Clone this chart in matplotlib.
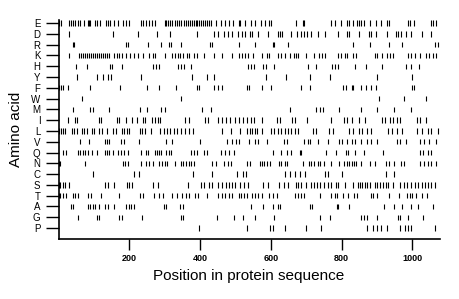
import matplotlib
matplotlib.use('Agg')
import matplotlib.pyplot as plt

plt.rcParams['font.family'] = ['Liberation Sans', 'DejaVu Sans']

# Amino acids from top to bottom
AMINO = ['E', 'D', 'R', 'K', 'H', 'Y', 'F', 'W', 'M', 'I',
         'L', 'V', 'Q', 'N', 'C', 'S', 'T', 'A', 'G', 'P']
SEQ_LEN = 1078

# Positions of each residue in the sequence
pos_E = [2, 8, 30, 36, 42, 48, 54, 60, 72, 82, 86, 90, 104, 110, 116, 134, 140, 146, 158, 168,
         182, 190, 198, 232, 240, 248, 256, 264, 273, 300, 305, 310, 315, 320, 330, 335, 340,
         345, 355, 360, 366, 372, 378, 383, 388, 392, 398, 403, 408, 414, 420, 425, 432, 445,
         460, 470, 481, 494, 509, 514, 527, 543, 554, 571, 584, 595, 601, 672, 690, 695, 769,
         782, 797, 815, 821, 833, 843, 849, 856, 862, 880, 896, 912, 929, 935, 988, 993, 1005,
         1054, 1059, 1066]
pos_D = [29, 155, 224, 278, 316, 391, 438, 452, 467, 479, 490, 507, 518, 528, 540, 546, 563,
         593, 620, 626, 631, 656, 674, 684, 693, 703, 714, 733, 754, 789, 815, 821, 849, 878,
         884, 896, 929, 953, 960, 969, 981, 995, 1028, 1052]
pos_R = [42, 45, 191, 196, 252, 290, 313, 319, 347, 429, 435, 511, 554, 606, 610, 648, 833,
         880, 934, 972, 1063, 1071]
pos_K = [31, 57, 63, 69, 74, 80, 86, 91, 97, 103, 108, 114, 120, 125, 131, 136, 142, 158, 165,
         172, 180, 191, 202, 214, 226, 240, 257, 267, 273, 302, 320, 330, 337, 344, 353, 363,
         369, 382, 391, 410, 438, 462, 490, 511, 518, 526, 535, 549, 575, 590, 596, 620, 629,
         639, 653, 665, 672, 678, 700, 723, 735, 744, 754, 791, 799, 810, 816, 833, 840, 894,
         899, 915, 928, 937, 946, 988, 995, 1007, 1022, 1038, 1047, 1057, 1066]
pos_H = [49, 81, 146, 152, 179, 267, 275, 285, 337, 347, 356, 375, 535, 544, 552, 577, 587,
         610, 706, 728, 772, 782, 791, 837, 868, 915, 981, 995, 1019]
pos_Y = [51, 108, 125, 139, 148, 233, 377, 419, 438, 587, 643, 712, 766, 901, 1000]
pos_F = [2, 7, 14, 28, 89, 174, 249, 285, 332, 391, 396, 438, 451, 462, 532, 537, 575, 601,
         686, 712, 803, 812, 828, 831, 854, 868, 882, 896, 1000, 1005]
pos_W = [66, 347, 906, 977, 1038]
pos_M = [40, 89, 97, 144, 230, 249, 290, 302, 405, 432, 653, 728, 738, 747, 794, 856, 901,
         948, 995]
pos_I = [26, 48, 53, 114, 119, 164, 170, 191, 208, 223, 240, 245, 264, 273, 280, 288, 358,
         368, 415, 422, 452, 462, 473, 485, 498, 511, 520, 532, 544, 552, 575, 618, 625, 659,
         667, 703, 771, 808, 815, 828, 849, 865, 915, 922, 937, 946, 956, 965, 1012, 1022, 1038]
pos_L = [1, 6, 12, 18, 38, 45, 51, 66, 73, 80, 95, 101, 115, 123, 136, 155, 163, 180, 186, 193,
         200, 229, 236, 244, 262, 288, 297, 306, 316, 325, 335, 347, 358, 370, 379, 462, 488,
         514, 532, 540, 546, 554, 561, 575, 601, 610, 620, 629, 639, 648, 657, 669, 676, 719,
         728, 763, 775, 821, 833, 849, 859, 871, 884, 931, 941, 956, 972, 1014, 1026, 1043,
         1054, 1071]
pos_V = [61, 85, 130, 136, 144, 177, 186, 228, 304, 322, 401, 476, 490, 501, 511, 537, 556,
         565, 590, 637, 646, 695, 705, 712, 733, 761, 794, 801, 815, 828, 837, 856, 871, 884,
         901, 956, 965, 981, 1022, 1033, 1047, 1066]
pos_Q = [14, 21, 54, 61, 68, 76, 82, 95, 108, 130, 136, 144, 153, 167, 177, 186, 196, 233,
         247, 252, 272, 278, 285, 290, 304, 311, 319, 375, 382, 391, 410, 419, 460, 471, 483,
         495, 606, 629, 646, 657, 681, 686, 756, 785, 812, 818, 837, 864, 918, 1022, 1031,
         1043, 1054]
pos_N = [1, 3, 76, 181, 189, 196, 233, 247, 255, 267, 285, 292, 300, 306, 330, 347, 353, 360,
         368, 375, 382, 434, 445, 467, 479, 488, 532, 540, 568, 575, 582, 590, 599, 622, 629,
         639, 646, 690, 709, 714, 723, 733, 740, 750, 769, 794, 808, 815, 821, 828, 835, 840,
         854, 880, 894, 925, 934, 948, 967, 975, 1022, 1033, 1043, 1054, 1066]
pos_C = [98, 212, 227, 381, 433, 504, 522, 530, 640, 654, 668, 682, 697, 752, 762, 800, 925,
         948]
pos_S = [1, 4, 12, 19, 31, 132, 139, 158, 193, 200, 208, 266, 281, 366, 403, 410, 426, 435,
         452, 462, 473, 483, 490, 500, 514, 523, 535, 577, 592, 624, 637, 648, 672, 676, 686,
         700, 714, 722, 731, 740, 750, 761, 770, 785, 789, 810, 831, 847, 852, 859, 865, 873,
         880, 894, 901, 909, 918, 925, 931, 946, 965, 977, 986, 995, 1007, 1016, 1026, 1035,
         1044, 1054, 1063]
pos_T = [1, 4, 12, 21, 40, 48, 54, 82, 92, 120, 170, 230, 240, 269, 285, 294, 322, 335, 349,
         360, 368, 385, 394, 419, 452, 462, 471, 481, 490, 511, 516, 523, 532, 546, 556, 565,
         575, 596, 606, 618, 667, 676, 686, 695, 740, 769, 782, 787, 803, 818, 835, 843, 882,
         890, 899, 934, 962, 986, 993, 1000, 1010, 1028, 1042]
pos_A = [35, 42, 82, 89, 97, 104, 114, 130, 139, 158, 191, 198, 206, 213, 297, 304, 344, 351,
         543, 577, 606, 620, 627, 712, 716, 787, 791, 821, 920, 948, 972, 995, 1016, 1057]
pos_G = [54, 108, 115, 172, 178, 236, 347, 353, 448, 495, 520, 556, 608, 740, 766, 854, 862,
         871, 901, 958, 965, 988, 1031]
pos_P = [398, 534, 598, 605, 640, 699, 741, 871, 890, 901, 911, 927, 965, 979, 987, 995, 1064]

POSITIONS = [pos_E, pos_D, pos_R, pos_K, pos_H, pos_Y, pos_F, pos_W, pos_M, pos_I,
             pos_L, pos_V, pos_Q, pos_N, pos_C, pos_S, pos_T, pos_A, pos_G, pos_P]
XTICKS = [200, 400, 600, 800, 1000]

fig = plt.figure(figsize=(4.6, 2.99), dpi=100)
ax = fig.add_axes([0.1272, 0.2023, 0.8293, 0.7307])

n = len(AMINO)
for i, (aa, pos) in enumerate(zip(AMINO, POSITIONS)):
    y = n - 1 - i  # E on top, P at the bottom
    ax.vlines(pos, y - 0.25, y + 0.25, color='black', lw=0.8, clip_on=False)

ax.set_xlim(0, SEQ_LEN)
ax.set_ylim(-0.97, n - 1 + 0.28)
ax.set_yticks(range(n))
ax.set_yticklabels(AMINO[::-1])
ax.set_xticks(XTICKS)
ax.set_xticklabels([str(t) for t in XTICKS], fontweight='bold')

for side in ['top', 'right']:
    ax.spines[side].set_visible(False)
for side in ['left', 'bottom']:
    ax.spines[side].set_linewidth(1.2)

ax.tick_params(axis='y', length=9.5, width=1.0, pad=3.5, labelsize=7)
ax.tick_params(axis='x', length=8, width=1.0, pad=3, labelsize=6.5)
ax.set_xlabel('Position in protein sequence', fontsize=11)
ax.set_ylabel('Amino acid', fontsize=11)
ax.xaxis.set_label_coords(0.498, -0.138)
ax.yaxis.set_label_coords(-0.092, 0.5)

fig.savefig('out.png', dpi=100)
